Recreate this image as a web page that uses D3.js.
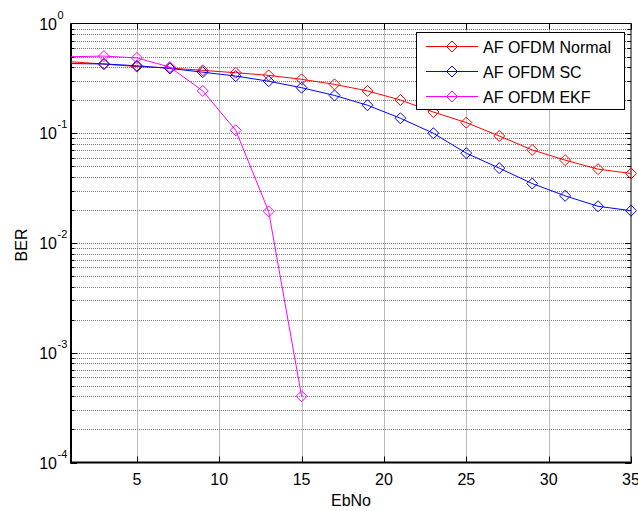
<!DOCTYPE html>
<html><head><meta charset="utf-8">
<script src="https://cdn.jsdelivr.net/npm/d3@7"></script>
<style>
body{margin:0;background:#fff}
svg{display:block;font-family:"Liberation Sans",Arial,Helvetica,sans-serif}
</style>
</head><body>
<svg id="c" width="638" height="511"></svg>
<script>
// ---- data ----
const ebnoFull = [-1,1,3,5,7,9,11,13,15,17,19,21,23,25,27,29,31,33,35];
const ebnoEKF  = [-1,1,3,5,7,9,11,13,15];
const berNormal = [0.471,0.448,0.427,0.405,0.393,0.374,0.356,0.337,0.310,0.279,0.243,0.201,0.156,0.125,0.0944,0.0705,0.0569,0.0471,0.0430];
const berSC     = [0.435,0.431,0.428,0.412,0.390,0.360,0.332,0.298,0.260,0.221,0.180,0.137,0.100,0.0658,0.0481,0.0348,0.0269,0.0216,0.0197];
const berEKF    = [0.497,0.498,0.505,0.486,0.401,0.243,0.1064,0.0194,0.000401];
const seriesNames = ["AF OFDM Normal","AF OFDM SC","AF OFDM EKF"];
const xTickValues = [5,10,15,20,25,30,35];
const yTickExponents = [-4,-3,-2,-1,0];
const xDomain = [1,35];
const yDomain = [1e-4,1];
const xLabel = "EbNo", yLabel = "BER";

// ---- styles / layout ----
const colors = ["#ff0000","#0000ff","#ff00ff"];
const L = 71, R = 631, T = 23.5, B = 462.5;

const svg = d3.select("#c");
const x = d3.scaleLinear().domain(xDomain).range([L,R]);
const y = d3.scaleLog().domain(yDomain).range([B,T]);

// grid
const grid = svg.append("g").attr("stroke","#7a7a7a").attr("stroke-width",1).attr("stroke-dasharray","1,1");
xTickValues.filter(v=>v>xDomain[0] && v<xDomain[1]).forEach(v=>{
  grid.append("line").attr("x1",Math.round(x(v))+0.5).attr("x2",Math.round(x(v))+0.5).attr("y1",T).attr("y2",B);
});
const yAll = [];
for (let e=-4;e<0;e++) for (let k=1;k<10;k++) yAll.push(k*Math.pow(10,e));
yAll.filter(v=>v>yDomain[0]).forEach(v=>{
  grid.append("line").attr("x1",L).attr("x2",R).attr("y1",Math.round(y(v))+0.5).attr("y2",Math.round(y(v))+0.5);
});

// ticks (inward, both sides)
const tk = svg.append("g").attr("stroke","#000").attr("stroke-width",1);
yAll.forEach(v=>{
  const major = Math.abs(Math.log10(v)-Math.round(Math.log10(v)))<1e-9;
  const len = major?6:3.5;
  const yy = Math.round(y(v))+0.5;
  tk.append("line").attr("x1",L).attr("x2",L+len).attr("y1",yy).attr("y2",yy);
  tk.append("line").attr("x1",R).attr("x2",R-len).attr("y1",yy).attr("y2",yy);
});
xTickValues.forEach(v=>{
  const xx = Math.round(x(v))+0.5;
  tk.append("line").attr("x1",xx).attr("x2",xx).attr("y1",B).attr("y2",B-6);
  tk.append("line").attr("x1",xx).attr("x2",xx).attr("y1",T).attr("y2",T+6);
});

// frame
svg.append("rect").attr("x",L).attr("y",T).attr("width",R-L).attr("height",B-T)
  .attr("fill","none").attr("stroke","#000").attr("stroke-width",1);
svg.append("line").attr("x1",L).attr("x2",L).attr("y1",T).attr("y2",B+1).attr("stroke","#000").attr("stroke-width",2);
svg.append("line").attr("x1",L-1).attr("x2",R+1).attr("y1",B).attr("y2",B).attr("stroke","#000").attr("stroke-width",2);

// tick labels
const xl = svg.append("g").attr("font-size",16).attr("fill","#000").attr("text-anchor","middle");
xTickValues.forEach(v=>{
  xl.append("text").attr("x",x(v)).attr("y",485).text(v);
});
const yl = svg.append("g").attr("fill","#000");
yTickExponents.forEach(e=>{
  const yy = y(Math.pow(10,e));
  yl.append("text").attr("x",57).attr("y",yy+6).attr("text-anchor","end").attr("font-size",16).text("10");
  yl.append("text").attr("x",57.5).attr("y",yy-5).attr("text-anchor","start").attr("font-size",11).text(String(e));
});

// axis labels
svg.append("text").attr("x",351).attr("y",506).attr("text-anchor","middle").attr("font-size",16).text(xLabel);
svg.append("text").attr("transform","translate(27,245) rotate(-90)").attr("text-anchor","middle").attr("font-size",16).text(yLabel);

// series
svg.append("clipPath").attr("id","pc").append("rect").attr("x",L).attr("y",T).attr("width",R-L).attr("height",B-T);
const series = [
  {xs: ebnoFull, ys: berNormal},
  {xs: ebnoFull, ys: berSC},
  {xs: ebnoEKF,  ys: berEKF}
];
const line = d3.line().x(d=>x(d[0])).y(d=>y(d[1]));
const diamond = (cx,cy,r)=>`M${cx},${cy-r}L${cx+r},${cy}L${cx},${cy+r}L${cx-r},${cy}Z`;
series.forEach((s,i)=>{
  const pts = s.xs.map((v,j)=>[v,s.ys[j]]);
  svg.append("path").attr("d",line(pts)).attr("fill","none").attr("stroke",colors[i]).attr("stroke-width",1)
    .attr("clip-path","url(#pc)");
  const g = svg.append("g").attr("fill","none").attr("stroke",colors[i]).attr("stroke-width",1);
  pts.filter(p=>p[0]>=xDomain[0]+1e-9 && p[0]<=xDomain[1]).forEach(p=>{
    if (p[0]===xDomain[0]) return;
    g.append("path").attr("d",diamond(x(p[0]),y(p[1]),5.5));
  });
});

// legend
const lg = svg.append("g");
lg.append("rect").attr("x",416.5).attr("y",32.5).attr("width",208).attr("height",77)
  .attr("fill","#fff").attr("stroke","#000").attr("stroke-width",1);
seriesNames.forEach((n,i)=>{
  const yy = 46.5 + i*25;
  lg.append("line").attr("x1",426).attr("x2",478).attr("y1",yy).attr("y2",yy).attr("stroke",colors[i]).attr("stroke-width",1);
  lg.append("path").attr("d",diamond(452,yy,5.5)).attr("fill","none").attr("stroke",colors[i]);
  lg.append("text").attr("x",483).attr("y",yy+6).attr("font-size",16).text(n);
});
</script>
</body></html>
